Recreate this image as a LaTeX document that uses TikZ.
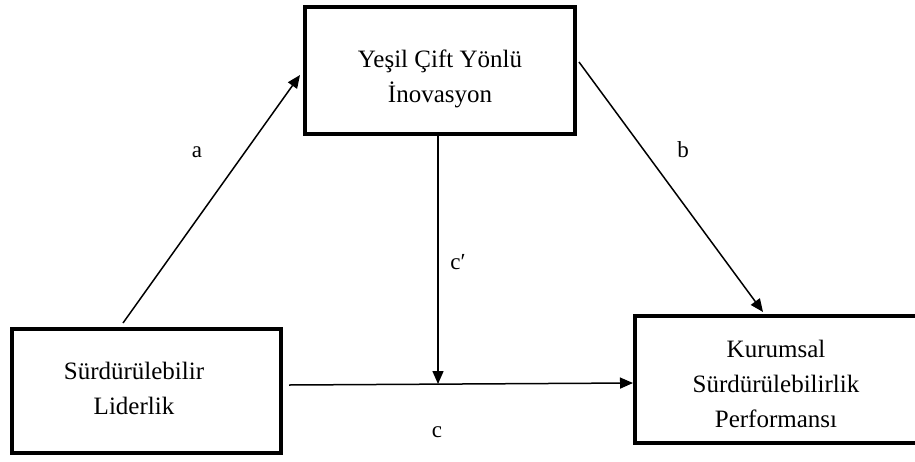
\documentclass[tikz,border=0pt]{standalone}
\usepackage{fontspec}
\setmainfont{Liberation Serif}
\usetikzlibrary{arrows.meta,calc}
\begin{document}
\begin{tikzpicture}[x=1pt,y=-1pt,
  box/.style={draw=black,line width=4pt,fill=white,rectangle,inner sep=0pt},
  txt/.style={align=center,font=\fontsize{25}{35}\selectfont,inner sep=0pt},
  lbl/.style={font=\fontsize{23}{25}\selectfont,inner sep=0pt},
  arr/.style={line width=1.5pt,-{Triangle[length=13pt,width=11pt]}}]
\useasboundingbox (0,0) rectangle (915,461);
\clip (0,0) rectangle (915,461);
% boxes
\node[box,minimum width=270pt,minimum height=127pt] (gyc) at (440,70.5) {};
\node[box,minimum width=269pt,minimum height=124pt] (sl) at (146.5,391) {};
\node[box,minimum width=300pt,minimum height=127pt] (ksp) at (785,379.5) {};
% texts
\node[txt] (gyct) at (440,79) {Yeşil Çift Yönlü\\İnovasyon};
\node[txt] (slt) at (134,388) {Sürdürülebilir\\Liderlik};
\node[txt] (kspt) at (776,384) {Kurumsal\\Sürdürülebilirlik\\Performansı};
% connectors
\coordinate (cp) at (438,384);
\draw[arr] ([xshift=113pt,yshift=4pt]sl.north west) -- ([yshift=-70pt,xshift=-3pt]gyc.north west);
\draw[arr] ([xshift=2pt,yshift=-57pt]gyc.north east) -- ([xshift=130pt,yshift=2pt]ksp.north west);
\draw[arr] ([xshift=-2pt]gyc.south) -- (cp);
\draw[arr] ([xshift=6pt,yshift=6pt]sl.east) -- ([yshift=-3.5pt]ksp.west);
% labels
\node[lbl] (la) at (197,152) {a};
\node[lbl] (lb) at (683,150) {b};
\node[lbl] (lc1) at (458,262) {c′};
\node[lbl] (lc) at (437,432) {c};
\end{tikzpicture}
\end{document}
